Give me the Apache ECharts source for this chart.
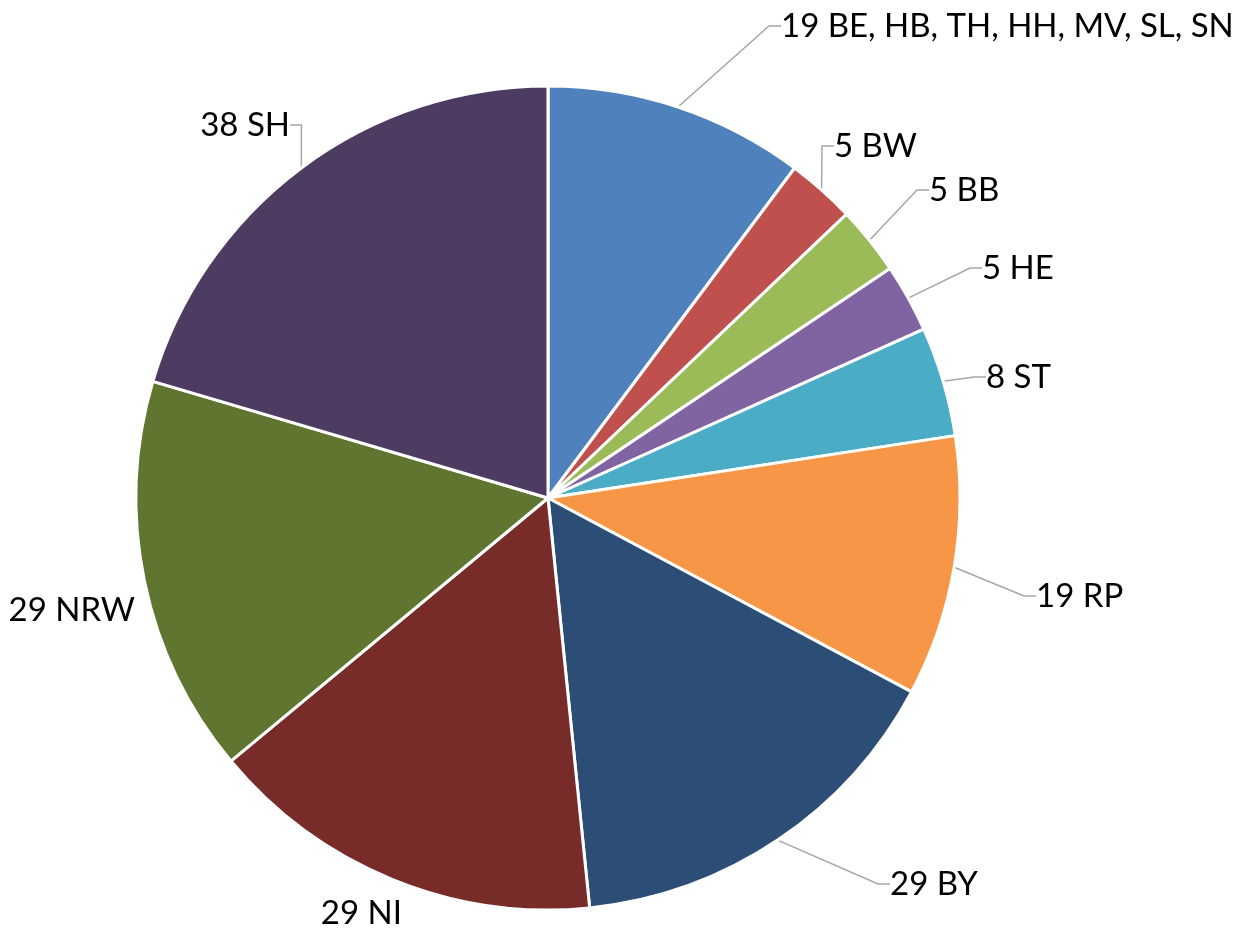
<!DOCTYPE html>
<html>
<head>
<meta charset="utf-8">
<script src="https://cdn.jsdelivr.net/npm/echarts@6/dist/echarts.min.js"></script>
<style>
html,body{margin:0;padding:0;background:#fff;}
#chart{width:1234px;height:932px;}
</style>
</head>
<body>
<div id="chart"></div>
<script>
// ---- data ----
const categories = ['BE, HB, TH, HH, MV, SL, SN', 'BW', 'BB', 'HE', 'ST', 'RP', 'BY', 'NI', 'NRW', 'SH'];
const values = [19, 5, 5, 5, 8, 19, 29, 29, 29, 38];

// ---- styling / layout ----
const colors = ['#4F81BD', '#C0504D', '#9BBB59', '#8064A2', '#4BACC6', '#F79646', '#2C4D75', '#772C2A', '#5F7530', '#4D3B62'];
// label anchor: [x, y] — text start edge (left for right-hand labels, right for left-hand labels), vertical middle
const labelAnchor = {
  'BE, HB, TH, HH, MV, SL, SN': [781, 26, 'left'],
  'BW': [834, 146, 'left'],
  'BB': [929, 190, 'left'],
  'HE': [982, 268, 'left'],
  'ST': [986, 377, 'left'],
  'RP': [1036, 596, 'left'],
  'BY': [890, 884, 'left'],
  'NI': [402, 913, 'right'],
  'NRW': [135, 610, 'right'],
  'SH': [290, 125, 'right']
};
const noLine = ['NI', 'NRW'];

const chart = echarts.init(document.getElementById('chart'));
chart.setOption({
  animation: false,
  color: colors,
  series: [{
    type: 'pie',
    center: [548, 498],
    radius: [0, 412],
    startAngle: 90,
    clockwise: true,
    avoidLabelOverlap: false,
    itemStyle: { borderColor: '#fff', borderWidth: 3 },
    label: {
      show: true,
      position: 'outside',
      formatter: '{c} {b}',
      color: '#000',
      fontSize: 33,
      fontFamily: 'Lato'
    },
    labelLine: {
      show: true,
      length: 20,
      length2: 12,
      lineStyle: { color: '#A6A6A6', width: 1.5 }
    },
    labelLayout: function (params) {
      const name = categories[params.dataIndex];
      const a = labelAnchor[name];
      if (!a) return {};
      return { x: a[0], y: a[1], align: a[2], verticalAlign: 'middle' };
    },
    emphasis: { disabled: true },
    data: categories.map((c, i) => ({
      name: c,
      value: values[i],
      labelLine: { show: noLine.indexOf(c) < 0 }
    }))
  }]
});
</script>
</body>
</html>
